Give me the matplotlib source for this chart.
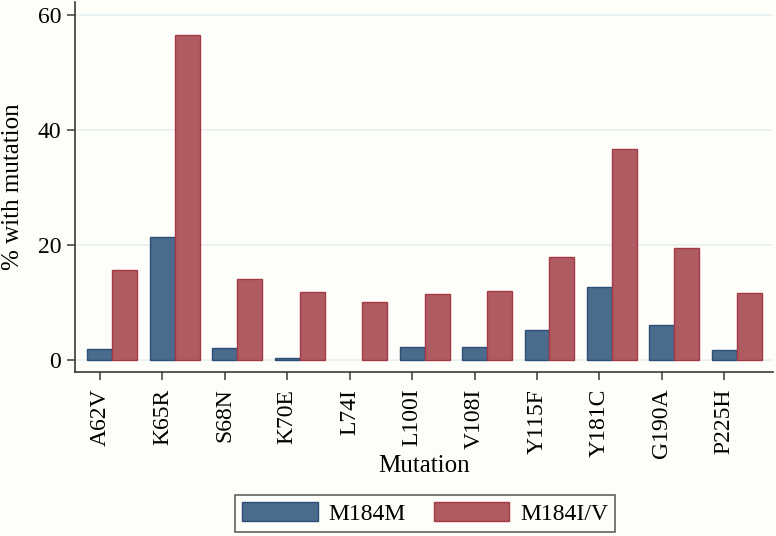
import matplotlib
matplotlib.use("Agg")
import matplotlib.pyplot as plt
import numpy as np
from matplotlib.patches import Patch

mutations = ["A62V", "K65R", "S68N", "K70E", "L74I", "L100I",
             "V108I", "Y115F", "Y181C", "G190A", "P225H"]
m184m = [1.9, 21.4, 2.1, 0.3, 0.0, 2.2, 2.2, 5.2, 12.7, 6.1, 1.7]
m184iv = [15.7, 56.5, 14.1, 11.8, 10.1, 11.5, 12.0, 17.9, 36.7, 19.5, 11.6]
yticks = [0, 20, 40, 60]

bg = "#fdfdf9"
blue_fill, blue_edge = "#4a6b8c", "#2c4f78"
red_fill, red_edge = "#af5b62", "#a53a46"
axis_col = "#3a3a3a"

plt.rcParams["font.family"] = ["Liberation Serif", "DejaVu Serif"]

fig = plt.figure(figsize=(7.76, 5.36), dpi=100, facecolor=bg)
ax = fig.add_axes([75 / 776, (536 - 372) / 536, (773 - 75) / 776, (372 - 2) / 536])
ax.set_facecolor(bg)

x = np.arange(len(mutations))
w = 0.4
# no outline on empty bars (L74I has no M184M cases)
lw_blue = [1.0 if v > 0 else 0 for v in m184m]
ax.bar(x, m184m, width=w, color=blue_fill, edgecolor=blue_edge, linewidth=lw_blue, zorder=3)
ax.bar(x + w, m184iv, width=w, color=red_fill, edgecolor=red_edge, linewidth=1.0, zorder=3)

ax.set_xlim(-0.4, 10.78)
ax.set_ylim(-2.1, 62.3)
ax.set_yticks(yticks)
ax.set_xticks(x)
ax.set_xticklabels(mutations, rotation=90, fontsize=17)
ax.tick_params(axis="y", labelsize=17, length=6, width=1.1, color=axis_col, pad=4)
ax.tick_params(axis="x", length=6, width=1.1, color=axis_col, pad=6)
ax.grid(axis="y", color="#e8f0f2", linewidth=1.2, zorder=0)
ax.set_axisbelow(True)

for s in ["top", "right"]:
    ax.spines[s].set_visible(False)
for s in ["left", "bottom"]:
    ax.spines[s].set_color(axis_col)
    ax.spines[s].set_linewidth(1.2)

ax.set_ylabel("% with mutation", fontsize=18, labelpad=10)
ax.set_xlabel("Mutation", fontsize=18, labelpad=-2)

handles = [Patch(facecolor=blue_fill, edgecolor=blue_edge, label="M184M"),
           Patch(facecolor=red_fill, edgecolor=red_edge, label="M184I/V")]
leg = fig.legend(handles=handles, loc="lower center", bbox_to_anchor=(425 / 776, 4 / 536),
                 ncol=2, fontsize=17, frameon=True, fancybox=False,
                 handlelength=3.2, handleheight=0.85, columnspacing=1.2,
                 handletextpad=0.45, borderpad=0.3, borderaxespad=0)
leg.get_frame().set_edgecolor(axis_col)
leg.get_frame().set_linewidth(1.2)
leg.get_frame().set_facecolor(bg)

fig.savefig("out.png", dpi=100, facecolor=bg)
